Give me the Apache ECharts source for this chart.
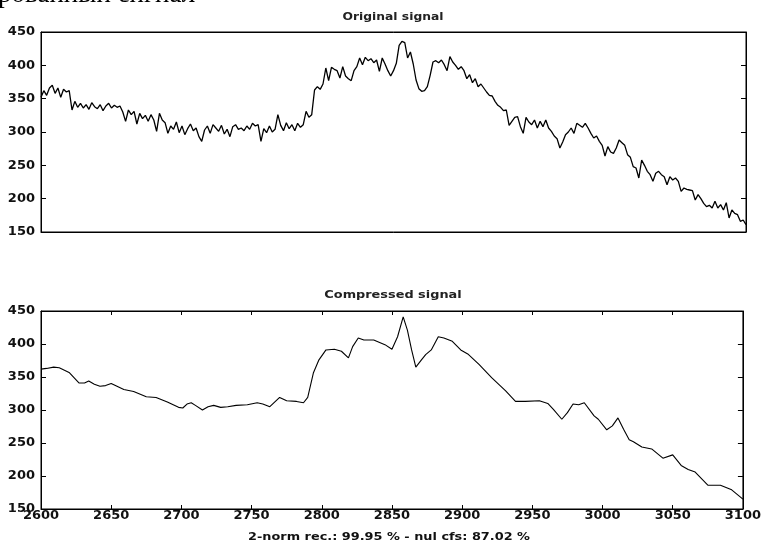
<!DOCTYPE html>
<html>
<head>
<meta charset="utf-8">
<script src="https://cdn.jsdelivr.net/npm/echarts@6/dist/echarts.min.js"></script>
<style>html,body{margin:0;padding:0;background:#fff;}#c{width:764px;height:546px;}</style>
</head>
<body>
<div id="c"></div>
<script>
// Original signal: one sample every 2 units, starting at 2600
var origStart = 2600;
var origStep = 2;
var origY = [
  352, 362, 355, 366, 370, 358, 366, 352, 364, 360, 362,
  333, 346, 337, 343, 336, 341, 334, 344, 338, 335, 341, 332, 339, 343, 336, 340, 337, 339, 330, 316,
  333, 326, 331, 312, 328, 320, 325, 316, 326, 318, 301, 328, 318, 314, 298, 309, 304, 315, 299, 309,
  296, 305, 312, 302, 306, 293, 286, 303, 309, 298, 311, 306, 301, 310, 297, 304, 293, 308, 311, 304,
  306, 302, 309, 304, 313, 309, 311, 286, 305, 299, 309, 300, 304, 326, 310, 302, 314, 305, 311, 302,
  313, 307, 311, 331, 322, 326, 363, 368, 364, 372, 396, 377, 397, 394, 392, 381, 398, 384, 380, 377,
  392, 398, 411, 401, 412, 407, 410, 404, 408, 391, 411, 402, 392, 384, 392, 403, 430, 436, 434, 411,
  420, 402, 378, 365, 361, 362, 368, 385, 405, 407, 404, 408, 401, 392, 413, 405, 400, 394, 398, 392,
  380, 386, 374, 380, 368, 372, 366, 360, 355, 354, 346, 340, 337, 332, 333, 310, 316, 322, 323, 308,
  298, 322, 315, 311, 318, 306, 316, 308, 318, 306, 301, 294, 290, 276, 285, 296, 300, 306, 298, 313,
  310, 307, 313, 306, 298, 291, 294, 286, 280, 264, 278, 270, 268, 276, 288, 284, 280, 266, 262, 248,
  246, 231, 258, 250, 241, 236, 226, 238, 241, 236, 233, 221, 233, 228, 231, 226, 211, 216, 214, 213,
  212, 198, 206, 200, 193, 188, 190, 186, 196, 186, 191, 183, 194, 171, 183, 178, 176, 166, 168, 161
];

// Compressed signal (breakpoints)
var compX = [
  2600, 2604, 2609, 2613, 2620, 2627, 2631, 2634, 2638, 2642, 2646, 2650, 2653, 2659, 2666,
  2675, 2682, 2690, 2698, 2701, 2704, 2707, 2710, 2715, 2719, 2723, 2728, 2733, 2739, 2747,
  2754, 2758, 2763, 2770, 2775, 2782, 2787, 2790, 2794, 2798, 2803, 2809, 2814, 2819, 2822,
  2826, 2830, 2837, 2845, 2850, 2854, 2858, 2861, 2864, 2867, 2871, 2874, 2878, 2883, 2887,
  2893, 2899, 2904, 2912, 2921, 2931, 2938, 2945, 2955, 2961, 2965, 2971, 2975, 2979, 2983,
  2987, 2994, 2997, 3003, 3007, 3011, 3015, 3019, 3022, 3028, 3035, 3043, 3050, 3056, 3061,
  3066, 3075, 3084, 3092, 3100
];
var compY = [
  362, 363, 365, 364, 357, 341, 341, 344, 339, 336, 337, 340, 337, 331, 328,
  320, 319, 312, 304, 303, 309, 311, 307, 300, 305, 307, 304, 305, 307, 308,
  311, 309, 305, 319, 314, 313, 311, 319, 356, 376, 391, 392, 389, 379, 396,
  409, 406, 406, 399, 392, 411, 441, 421, 391, 365, 376, 384, 391, 411, 409,
  404, 391, 385, 369, 349, 329, 313, 313, 314, 310, 301, 286, 296, 309, 308,
  311, 291, 286, 270, 276, 288, 271, 255, 252, 244, 241, 227, 232, 216, 210,
  206, 186, 186, 179, 165
];

var xTicks = [2600, 2650, 2700, 2750, 2800, 2850, 2900, 2950, 3000, 3050, 3100];
var yTicks = [150, 200, 250, 300, 350, 400, 450];

var titleTop = 'Original signal';
var titleBottom = 'Compressed signal';
var xLabelText = '2-norm rec.: 99.95 % - nul cfs: 87.02 %';
var cutText = 'рованный сигнал';

var origData = origY.map(function (v, i) { return [origStart + i * origStep, v]; });
var compData = compX.map(function (x, i) { return [x, compY[i]]; });

var FONT = 'DejaVu Sans';
function plain(v) { return String(v); }
var lab = { color: '#111', fontFamily: FONT, fontWeight: 'bold', fontSize: 13, formatter: plain };

function yAx(gi, pos, showLabel) {
  return {
    type: 'value', gridIndex: gi, position: pos,
    min: yTicks[0], max: yTicks[yTicks.length - 1], interval: 50,
    axisLine: { show: true, lineStyle: { color: '#000', width: 1 } },
    axisTick: { show: true, inside: true, length: 5, lineStyle: { color: '#000' } },
    axisLabel: Object.assign({ show: showLabel, margin: 6 }, lab),
    splitLine: { show: false }
  };
}
function xAx(gi, pos, showLabel, showTick) {
  return {
    type: 'value', gridIndex: gi, position: pos,
    min: xTicks[0], max: xTicks[xTicks.length - 1], interval: 50,
    axisLine: { show: true, onZero: false, lineStyle: { color: '#000', width: 1 } },
    axisTick: { show: showTick, inside: true, length: 4, lineStyle: { color: '#000' } },
    axisLabel: Object.assign({ show: showLabel, margin: 0 }, lab),
    splitLine: { show: false }
  };
}

var chart = echarts.init(document.getElementById('c'), null, { renderer: 'canvas' });
chart.setOption({
  backgroundColor: '#fff',
  animation: false,
  grid: [
    { left: 41, right: 18, top: 32, height: 200, show: true, borderColor: '#000', borderWidth: 1 },
    { left: 41, right: 18, top: 311, height: 198, show: true, borderColor: '#000', borderWidth: 1 }
  ],
  xAxis: [
    xAx(0, 'bottom', false, false),
    xAx(0, 'top', false, false),
    xAx(1, 'bottom', true, true),
    xAx(1, 'top', false, true)
  ],
  yAxis: [
    yAx(0, 'left', true),
    yAx(0, 'right', false),
    yAx(1, 'left', true),
    yAx(1, 'right', false)
  ],
  series: [
    { type: 'line', xAxisIndex: 0, yAxisIndex: 0, data: origData, showSymbol: false,
      lineStyle: { color: '#000', width: 1.3 }, silent: true },
    { type: 'line', xAxisIndex: 2, yAxisIndex: 2, data: compData, showSymbol: false,
      lineStyle: { color: '#000', width: 1.1 }, silent: true }
  ],
  graphic: [
    { type: 'text', x: 393, y: 17, scaleX: 1.12,
      style: { text: titleTop, x: 0, y: 0, align: 'center', verticalAlign: 'middle',
        fill: '#222', font: 'bold 11px "DejaVu Sans"' } },
    { type: 'text', x: 393, y: 295, scaleX: 1.17,
      style: { text: titleBottom, x: 0, y: 0, align: 'center', verticalAlign: 'middle',
        fill: '#222', font: 'bold 11px "DejaVu Sans"' } },
    { type: 'text', x: 389, y: 537, scaleX: 1.17,
      style: { text: xLabelText, x: 0, y: 0, align: 'center', verticalAlign: 'middle',
        fill: '#111', font: 'bold 11px "DejaVu Sans"' } },
    { type: 'text', x: -2, y: -5,
      style: { text: cutText, x: 0, y: 0, align: 'left', verticalAlign: 'middle',
        fill: '#000', font: '27px "Liberation Serif"' } }
  ]
});
</script>
</body>
</html>
